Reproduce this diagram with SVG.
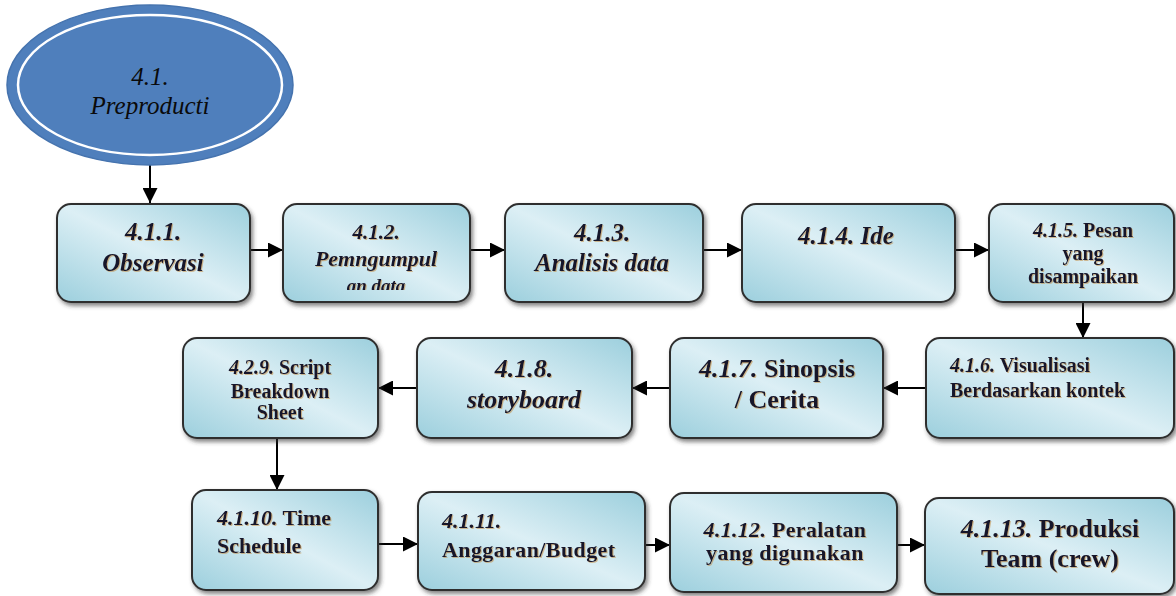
<svg xmlns="http://www.w3.org/2000/svg" width="1176" height="596" viewBox="0 0 1176 596">
<style>
.box{fill:url(#boxGrad);stroke:#2f2f2f;stroke-width:2;filter:url(#shadow)}
.t{font-family:"Liberation Serif","Times New Roman",serif;fill:#15152a;font-weight:bold;filter:url(#tshadow)}
.e{font-family:"Liberation Serif","Times New Roman",serif;fill:#0a0a0a;font-style:italic}
.i{font-style:italic}
.c{text-anchor:middle}
.conn{stroke:#000;stroke-width:2;fill:none;marker-end:url(#arrow)}
</style>
<defs>
<linearGradient id="boxGrad" x1="0" y1="1" x2="1" y2="0">
<stop offset="0" stop-color="#9ccfdd"/>
<stop offset="0.5" stop-color="#dceff5"/>
<stop offset="1" stop-color="#9ccfdd"/>
</linearGradient>
<filter id="shadow" x="-10%" y="-10%" width="125%" height="130%">
<feDropShadow dx="2" dy="3" stdDeviation="2" flood-color="#333" flood-opacity="0.6"/>
</filter>
<filter id="tshadow" x="-5%" y="-10%" width="115%" height="130%">
<feDropShadow dx="1" dy="1" stdDeviation="0.4" flood-color="#c28a40" flood-opacity="0.55"/>
</filter>
<marker id="arrow" markerUnits="userSpaceOnUse" markerWidth="15" markerHeight="15" refX="15" refY="7.5" orient="auto">
<path d="M0,0 L15,7.5 L0,15 z" fill="#000"/>
</marker>
<clipPath id="clip2"><rect x="283" y="200" width="187" height="90"/></clipPath>
</defs>

<g id="connectors">
<line class="conn" x1="150" y1="165" x2="150" y2="203"/>
<line class="conn" x1="250" y1="250" x2="283" y2="250"/>
<line class="conn" x1="470" y1="250" x2="505" y2="250"/>
<line class="conn" x1="703" y1="250" x2="742" y2="250"/>
<line class="conn" x1="955" y1="250" x2="989" y2="250"/>
<line class="conn" x1="1083" y1="303" x2="1083" y2="338"/>
<line class="conn" x1="926" y1="388" x2="883" y2="388"/>
<line class="conn" x1="670" y1="388" x2="632" y2="388"/>
<line class="conn" x1="417" y1="388" x2="378" y2="388"/>
<line class="conn" x1="277" y1="438" x2="277" y2="490"/>
<line class="conn" x1="378" y1="544" x2="418" y2="544"/>
<line class="conn" x1="645" y1="545" x2="670" y2="545"/>
<line class="conn" x1="897" y1="545" x2="925" y2="545"/>
</g>

<g id="n4_1">
<ellipse cx="150" cy="85" rx="143" ry="80" fill="#4f7fbc" stroke="#4573ae" stroke-width="1.5"/>
<ellipse cx="150" cy="85" rx="132" ry="70" fill="none" stroke="#ffffff" stroke-width="2.5"/>
<text class="e c" x="150" y="85" font-size="25">4.1.</text>
<text class="e c" x="150" y="114" font-size="25">Preproducti</text>
</g>

<g id="n4_1_1">
<rect class="box" x="57" y="204" width="193" height="98" rx="14"/>
<text class="t i c" x="153" y="240" font-size="25">4.1.1.</text>
<text class="t i c" x="153" y="271" font-size="25">Observasi</text>
</g>

<g id="n4_1_2">
<rect class="box" x="283" y="204" width="187" height="98" rx="14"/>
<g clip-path="url(#clip2)">
<text class="t i c" x="376" y="239" font-size="21">4.1.2.</text>
<text class="t i c" x="376" y="266" font-size="22">Pemngumpul</text>
<text class="t i c" x="376" y="292" font-size="19">an data</text>
</g>
</g>

<g id="n4_1_3">
<rect class="box" x="505" y="204" width="198" height="98" rx="14"/>
<text class="t i c" x="602" y="241" font-size="25">4.1.3.</text>
<text class="t i c" x="602" y="271" font-size="25">Analisis data</text>
</g>

<g id="n4_1_4">
<rect class="box" x="742" y="204" width="213" height="98" rx="14"/>
<text class="t i c" x="846" y="244" font-size="25">4.1.4. Ide</text>
</g>

<g id="n4_1_5">
<rect class="box" x="989" y="204" width="185" height="98" rx="14"/>
<text class="t c" x="1083" y="237" font-size="20"><tspan class="i">4.1.5.</tspan> Pesan</text>
<text class="t c" x="1083" y="260" font-size="20">yang</text>
<text class="t c" x="1083" y="283" font-size="20">disampaikan</text>
</g>

<g id="n4_1_6">
<rect class="box" x="926" y="338" width="248" height="100" rx="14"/>
<text class="t" x="950" y="372" font-size="20"><tspan class="i">4.1.6.</tspan> Visualisasi</text>
<text class="t" x="950" y="397" font-size="20">Berdasarkan kontek</text>
</g>

<g id="n4_1_7">
<rect class="box" x="670" y="338" width="213" height="100" rx="14"/>
<text class="t c" x="777" y="377" font-size="26"><tspan class="i">4.1.7.</tspan> Sinopsis</text>
<text class="t c" x="777" y="408" font-size="26">/ Cerita</text>
</g>

<g id="n4_1_8">
<rect class="box" x="417" y="338" width="215" height="100" rx="14"/>
<text class="t i c" x="524" y="377" font-size="26">4.1.8.</text>
<text class="t i c" x="524" y="408" font-size="26">storyboard</text>
</g>

<g id="n4_2_9">
<rect class="box" x="183" y="338" width="195" height="100" rx="14"/>
<text class="t c" x="280" y="374" font-size="20"><tspan class="i">4.2.9.</tspan> Script</text>
<text class="t c" x="280" y="398" font-size="20">Breakdown</text>
<text class="t c" x="280" y="419" font-size="20">Sheet</text>
</g>

<g id="n4_1_10">
<rect class="box" x="192" y="490" width="186" height="100" rx="14"/>
<text class="t" x="217" y="525" font-size="22"><tspan class="i">4.1.10.</tspan> Time</text>
<text class="t" x="217" y="553" font-size="22">Schedule</text>
</g>

<g id="n4_1_11">
<rect class="box" x="418" y="492" width="227" height="98" rx="14"/>
<text class="t i" x="442" y="528" font-size="22">4.1.11.</text>
<text class="t" x="442" y="557" font-size="22" letter-spacing="0.4">Anggaran/Budget</text>
</g>

<g id="n4_1_12">
<rect class="box" x="670" y="493" width="227" height="99" rx="14"/>
<text class="t c" x="785" y="537" font-size="22" letter-spacing="0.3"><tspan class="i">4.1.12.</tspan> Peralatan</text>
<text class="t c" x="785" y="560" font-size="22" letter-spacing="0.5">yang digunakan</text>
</g>

<g id="n4_1_13">
<rect class="box" x="925" y="498" width="249" height="96" rx="14"/>
<text class="t c" x="1050" y="537" font-size="26"><tspan class="i">4.1.13.</tspan> Produksi</text>
<text class="t c" x="1050" y="567" font-size="26">Team (crew)</text>
</g>
</svg>
